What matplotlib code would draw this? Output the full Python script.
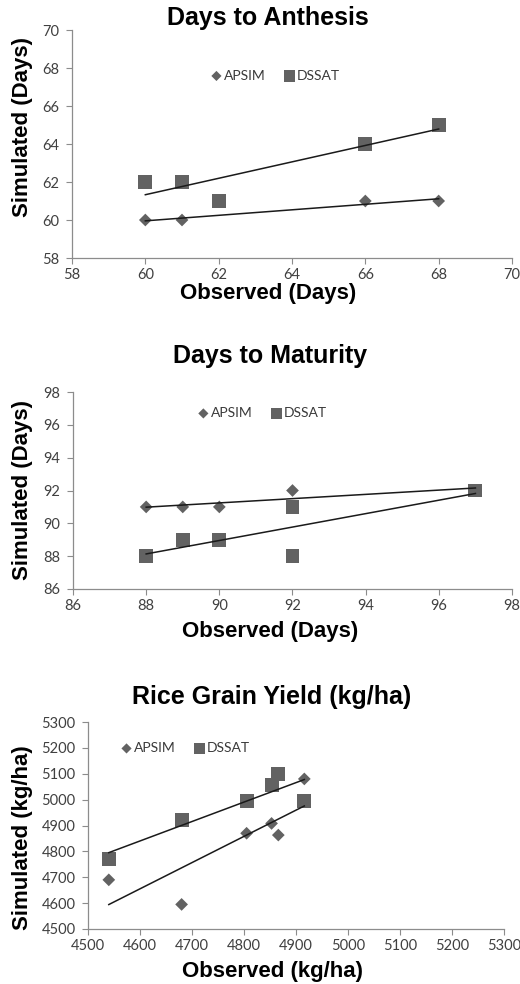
import numpy as np
import matplotlib
matplotlib.use("Agg")
import matplotlib.pyplot as plt

# Days to anthesis
anth_obs_apsim = [60, 61, 66, 68]
anth_sim_apsim = [60, 60, 61, 61]
anth_obs_dssat = [60, 61, 62, 66, 68]
anth_sim_dssat = [62, 62, 61, 64, 65]

# Days to maturity
mat_obs_apsim = [88, 89, 90, 92, 97]
mat_sim_apsim = [91, 91, 91, 92, 92]
mat_obs_dssat = [88, 89, 90, 92, 92, 97]
mat_sim_dssat = [88, 89, 89, 91, 88, 92]

# Rice grain yield (kg/ha)
yld_obs_apsim = [4540, 4680, 4805, 4853, 4866, 4916]
yld_sim_apsim = [4690, 4595, 4870, 4908, 4863, 5080]
yld_obs_dssat = [4540, 4680, 4805, 4853, 4866, 4916]
yld_sim_dssat = [4770, 4920, 4995, 5058, 5100, 4995]

series_names = ["APSIM", "DSSAT"]

W, H = 520, 984
fig = plt.figure(figsize=(W / 100, H / 100), dpi=100)
fig.patch.set_facecolor("white")

BOLD = dict(family=["Liberation Sans", "DejaVu Sans"], weight="bold", color="black")
TICKFONT = ["Lato", "DejaVu Sans"]
MARK = "#626262"


def fx(px):
    return px / W


def fy(py):
    return 1 - py / H


panels = [
    dict(rect=(72, 30, 512, 258), lim=(58, 70), step=2,
         a=(anth_obs_apsim, anth_sim_apsim), d=(anth_obs_dssat, anth_sim_dssat),
         title="Days to Anthesis", tpos=(268, 18), xlab="Observed (Days)", xpos=(268, 294),
         ylab="Simulated (Days)", ypos=(23, 127), leg=(0.461, 0.80)),
    dict(rect=(73, 392, 512, 589), lim=(86, 98), step=2,
         a=(mat_obs_apsim, mat_sim_apsim), d=(mat_obs_dssat, mat_sim_dssat),
         title="Days to Maturity", tpos=(270, 356), xlab="Observed (Days)", xpos=(270, 632),
         ylab="Simulated (Days)", ypos=(23, 490), leg=(0.43, 0.893)),
    dict(rect=(88, 722, 504, 929), lim=(4500, 5300), step=100,
         a=(yld_obs_apsim, yld_sim_apsim), d=(yld_obs_dssat, yld_sim_dssat),
         title="Rice Grain Yield (kg/ha)", tpos=(272, 697), xlab="Observed (kg/ha)", xpos=(272, 972),
         ylab="Simulated (kg/ha)", ypos=(23, 838), leg=(0.233, 0.874)),
]

for p in panels:
    l, t, r, b = p["rect"]
    ax = fig.add_axes([fx(l), fy(b), (r - l) / W, (b - t) / H])
    lo, hi = p["lim"]
    ticks = np.arange(lo, hi + p["step"] / 2, p["step"])
    ax.set_xlim(lo, hi)
    ax.set_ylim(lo, hi)
    ax.set_xticks(ticks)
    ax.set_yticks(ticks)
    for s in ["top", "right"]:
        ax.spines[s].set_visible(False)
    for s in ["left", "bottom"]:
        ax.spines[s].set_color("#8c8c8c")
        ax.spines[s].set_linewidth(0.9)
    ax.tick_params(direction="out", length=4, width=0.8, color="#8c8c8c",
                   labelcolor="#404040", labelsize=10.5)
    ax.tick_params(axis="y", pad=5)
    ax.tick_params(axis="x", pad=3)
    for lab in ax.get_xticklabels() + ax.get_yticklabels():
        lab.set_family(TICKFONT)

    xa, ya = p["a"]
    xd, yd = p["d"]
    ha = ax.scatter(xa, ya, marker="D", s=42, color=MARK, edgecolors="none", zorder=3)
    hd = ax.scatter(xd, yd, marker="s", s=100, color=MARK, edgecolors="none", zorder=3)
    # linear trend lines over the observed range
    for xs, ys in [(xa, ya), (xd, yd)]:
        k, c = np.polyfit(xs, ys, 1)
        xl = np.array([min(xs), max(xs)])
        ax.plot(xl, k * xl + c, color="#1a1a1a", lw=1.1, zorder=4)

    ax.legend([ha, hd], series_names, ncol=2, frameon=False, loc="center",
              bbox_to_anchor=p["leg"], handletextpad=0.05, columnspacing=1.2,
              markerscale=0.8, prop=dict(family=TICKFONT, size=10),
              labelcolor="#3a3a3a", borderpad=0, handlelength=1.0)

    fig.text(fx(p["tpos"][0]), fy(p["tpos"][1]), p["title"], ha="center", va="center",
             fontsize=18, **BOLD)
    fig.text(fx(p["xpos"][0]), fy(p["xpos"][1]), p["xlab"], ha="center", va="center",
             fontsize=16, **BOLD)
    fig.text(fx(p["ypos"][0]), fy(p["ypos"][1]), p["ylab"], ha="center", va="center",
             rotation=90, fontsize=16, **BOLD)

fig.savefig("out.png", dpi=100, facecolor="white")
